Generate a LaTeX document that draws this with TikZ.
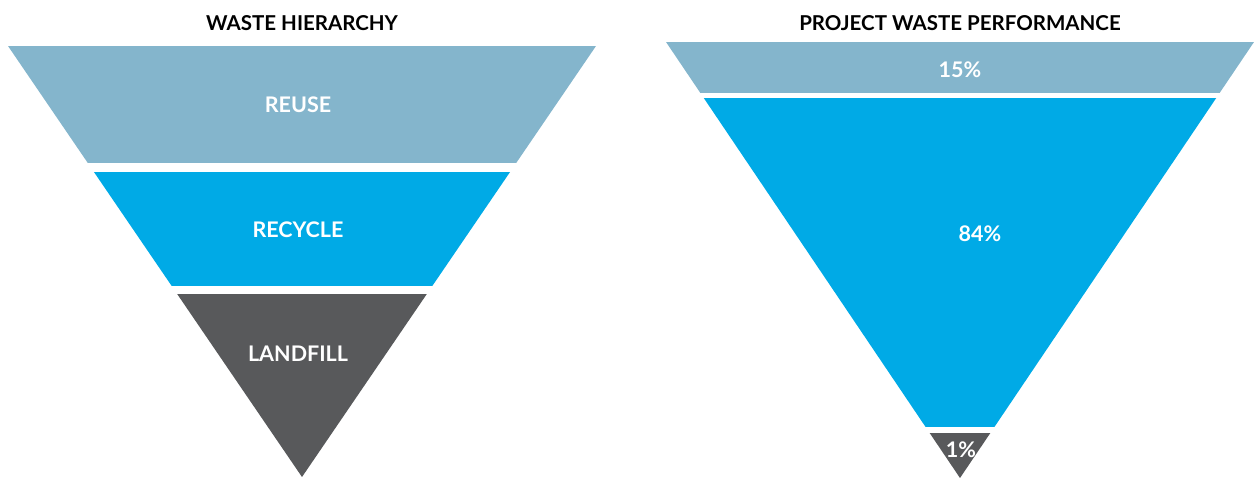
\documentclass[tikz,border=0pt]{standalone}
\usepackage{fontspec}
\setmainfont{Lato}
\definecolor{reuseblue}{HTML}{84B5CC}
\definecolor{recycleblue}{HTML}{00AAE6}
\definecolor{landfillgrey}{HTML}{58595B}
\tikzset{
  title/.style={font=\fontsize{20.5}{22}\selectfont\bfseries, text=black},
  band/.style={font=\fontsize{21.5}{23}\selectfont\bfseries, text=white},
}

% left funnel
\def\lxa{8}
\def\lxb{596}
\def\lxc{302}
\def\lyt{46}
\def\lyb{477}
% right funnel
\def\rxa{666}
\def\rxb{1254}
\def\rxc{960}
\def\ryt{42}
\def\ryb{478}

\begin{document}
\begin{tikzpicture}[x=1pt,y=-1pt]
        \useasboundingbox (0,0) rectangle (1254,479);
        % left: one triangle cut in three by white gaps
        \begin{scope}
            \clip (\lxa,\lyt) -- (\lxb,\lyt) -- (\lxc,\lyb) -- cycle;
            \fill[reuseblue] (0,\lyt) rectangle (620,163);
            \fill[recycleblue] (0,172) rectangle (620,286);
            \fill[landfillgrey] (0,294) rectangle (620,\lyb);
        \end{scope}
        % right: same shape, bands by share
        \begin{scope}
            \clip (\rxa,\ryt) -- (\rxb,\ryt) -- (\rxc,\ryb) -- cycle;
            \fill[reuseblue] (640,\ryt) rectangle (1254,93);
            \fill[recycleblue] (640,98) rectangle (1254,427);
            \fill[landfillgrey] (640,433) rectangle (1254,\ryb);
        \end{scope}
        \node[title] (hier) at (302,23) {WASTE HIERARCHY};
        \node[title] (perf) at (960,23) {PROJECT WASTE PERFORMANCE};
        \node[band] (reuse) at (298,105) {REUSE};
        \node[band] (recycle) at (298,230) {RECYCLE};
        \node[band] (landfill) at (298,354) {LANDFILL};
        \node[band] (reusepc) at (960,70) {15\%};
        \node[band] (recyclepc) at (980,234) {84\%};
        \node[band] (landfillpc) at (961,450) {1\%};
    \end{tikzpicture}
\end{document}
